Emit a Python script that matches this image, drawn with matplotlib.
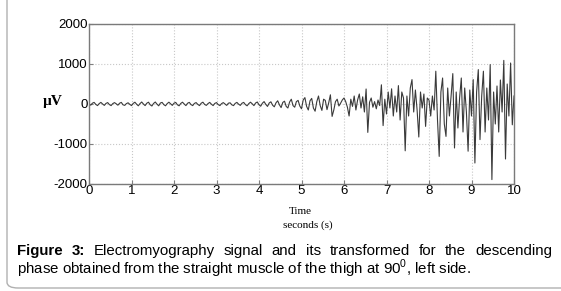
import numpy as np
import matplotlib.pyplot as plt
from matplotlib.patches import FancyBboxPatch

plt.rcParams['axes.unicode_minus'] = False
plt.rcParams['mathtext.fontset'] = 'custom'
plt.rcParams['mathtext.rm'] = 'Liberation Sans'

# EMG samples, one row per second (0.04 s step)
emg_0_1 = [0, -30, 20, 40, -10, -40, 10, 40, 0, -35, 15, 35, -15, -40, 10, 35, 5, -30, 20, 40, -20, -35, 10, 30, -10]
emg_1_2 = [-40, 15, 45, -5, -45, 10, 50, 0, -40, 20, 45, -20, -50, 15, 50, -5, -45, 25, 40, -15, -45, 10, 45, 5, -35]
emg_2_3 = [20, 40, -20, -45, 15, 45, 0, -40, 20, 40, -15, -40, 15, 35, -10, -40, 20, 45, -10, -35, 10, 40, -5, -40, 15]
emg_3_4 = [35, -15, -40, 10, 35, 0, -35, 20, 30, -20, -40, 15, 40, -5, -35, 20, 40, -15, -45, 10, 45, 5, -40, 25, 50]
emg_4_5 = [-20, -55, 20, 60, -10, -60, 25, 55, -30, -70, 30, 80, -20, -90, 40, 70, -60, -100, 50, 120, -40, -80, 60, 90, -50]
emg_5_6 = [-120, 100, 160, -60, -150, 80, 140, -100, -180, 60, 200, -40, -160, 120, 90, -140, 30, 230, -310, -150, 60, 120, -50, 20, 100]
emg_6_7 = [150, 60, -80, -300, 120, -60, 200, -150, 100, 250, -100, 180, -200, 375, -710, 40, 150, -80, 60, -120, 100, -40, 480, -540, 120]
emg_7_8 = [-250, 300, -100, 380, -300, 200, -200, 460, -400, 300, 150, -1170, 200, -300, 400, 610, -200, 350, -150, -825, 300, -100, 250, -560, 150]
emg_8_9 = [100, -300, 200, -150, 820, -400, -1310, 300, 650, -500, -810, 400, -300, 200, 760, -1100, 300, -600, 150, 650, -700, 400, -200, -1180, 350]
emg_9_10 = [-300, 610, -1475, 300, 860, -890, 200, 820, -700, 400, -400, 985, -1890, 300, -500, 450, -700, 600, -200, 1090, -1375, 500, -300, 1025, -520, 200]

emg = emg_0_1 + emg_1_2 + emg_2_3 + emg_3_4 + emg_4_5 + emg_5_6 + emg_6_7 + emg_7_8 + emg_8_9 + emg_9_10
time = np.linspace(0, 10, len(emg))

x_ticks = [0, 1, 2, 3, 4, 5, 6, 7, 8, 9, 10]
y_ticks = [-2000, -1000, 0, 1000, 2000]

caption_words = ['Figure', '3:', 'Electromyography', 'signal', 'and', 'its',
                 'transformed', 'for', 'the', 'descending']
caption_line2 = 'phase obtained from the straight muscle of the thigh at 90$^{0}$, left side.'

W, H = 561, 291
fig = plt.figure(figsize=(W / 100, H / 100), dpi=100)
fig.patch.set_facecolor('white')

# rounded frame, only left and bottom edges fall inside the picture
frame = FancyBboxPatch((7 / W, 3 / H), 1.2, 1.2,
                       boxstyle='round,pad=0,rounding_size=0.02',
                       transform=fig.transFigure, fill=False,
                       edgecolor='#b0b0b0', linewidth=1.0, clip_on=False)
fig.patches.append(frame)

ax = fig.add_axes([89 / W, 1 - 184 / H, 425 / W, 160 / H])
ax.plot(time, emg, color='#3a3a3a', linewidth=0.8)
ax.set_xlim(0, 10)
ax.set_ylim(-2000, 2000)
ax.set_xticks(x_ticks)
ax.set_yticks(y_ticks)
ax.grid(True, color='#c8c8c8', linestyle=':', linewidth=0.8)
ax.tick_params(direction='in', length=3, color='#808080', labelsize=9.5, pad=1)
for lab in ax.get_xticklabels() + ax.get_yticklabels():
    lab.set_family('Liberation Sans')
for s in ax.spines.values():
    s.set_color('#7a7a7a')
    s.set_linewidth(1.0)

fig.text(53 / W, 1 - 102 / H, 'µV', family='Liberation Serif', weight='bold',
         fontsize=11, ha='center', va='center')
fig.text(300 / W, 1 - 211 / H, 'Time', family='Liberation Serif',
         fontsize=8, ha='center', va='center')
fig.text(308 / W, 1 - 225 / H, 'seconds (s)', family='Liberation Serif',
         fontsize=8, ha='center', va='center')

# caption: first line justified between x=17 and x=552
cap_y1 = 1 - 251 / H
cap_y2 = 1 - 269 / H
cap_size = 10.8
renderer = fig.canvas.get_renderer()
texts = []
for i, w in enumerate(caption_words):
    t = fig.text(0, cap_y1, w, family='Liberation Sans', fontsize=cap_size,
                 weight='bold' if i < 2 else 'normal', va='center')
    texts.append(t)
widths = [t.get_window_extent(renderer).width for t in texts]
left, right = 17, 552
gap = (right - left - sum(widths)) / (len(texts) - 1)
x = left
for t, wd in zip(texts, widths):
    t.set_x(x / W)
    x += wd + gap

fig.text(17 / W, cap_y2, caption_line2, family='Liberation Sans',
         fontsize=cap_size, va='center')

fig.savefig('out.png', dpi=100)
